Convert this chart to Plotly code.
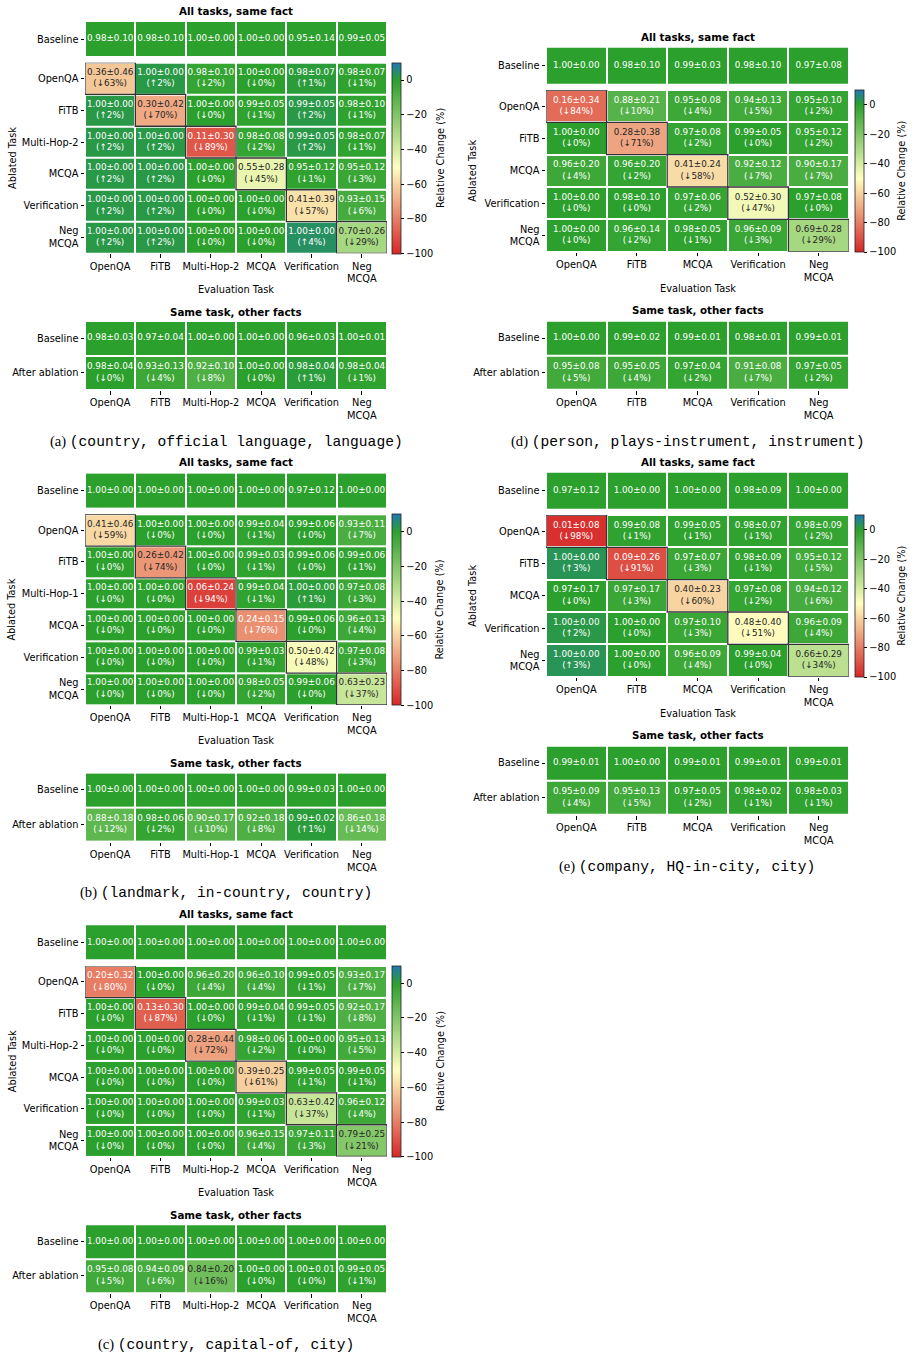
import plotly.graph_objects as go

# ======================= DATA =======================
# (a) (country, official language, language)
A_TASKS = ["OpenQA", "FiTB", "Multi-Hop-2", "MCQA", "Verification", "Neg MCQA"]
A_BASE_MEAN = [0.98, 0.98, 1.00, 1.00, 0.95, 0.99]
A_BASE_STD = [0.10, 0.10, 0.00, 0.00, 0.14, 0.05]
A_MEAN = [[0.36, 1.00, 0.98, 1.00, 0.98, 0.98],
          [1.00, 0.30, 1.00, 0.99, 0.99, 0.98],
          [1.00, 1.00, 0.11, 0.98, 0.99, 0.98],
          [1.00, 1.00, 1.00, 0.55, 0.95, 0.95],
          [1.00, 1.00, 1.00, 1.00, 0.41, 0.93],
          [1.00, 1.00, 1.00, 1.00, 1.00, 0.70]]
A_STD = [[0.46, 0.00, 0.10, 0.00, 0.07, 0.07],
         [0.00, 0.42, 0.00, 0.05, 0.05, 0.10],
         [0.00, 0.00, 0.30, 0.08, 0.05, 0.07],
         [0.00, 0.00, 0.00, 0.28, 0.12, 0.12],
         [0.00, 0.00, 0.00, 0.00, 0.39, 0.15],
         [0.00, 0.00, 0.00, 0.00, 0.00, 0.26]]
A_CHANGE = [[-63, 2, -2, 0, 1, -1],
            [2, -70, 0, -1, 2, -1],
            [2, 2, -89, -2, 2, -1],
            [2, 2, 0, -45, -1, -3],
            [2, 2, 0, 0, -57, -6],
            [2, 2, 0, 0, 4, -29]]
A_OTHER_BASE_MEAN = [0.98, 0.97, 1.00, 1.00, 0.96, 1.00]
A_OTHER_BASE_STD = [0.03, 0.04, 0.00, 0.00, 0.03, 0.01]
A_OTHER_MEAN = [0.98, 0.93, 0.92, 1.00, 0.98, 0.98]
A_OTHER_STD = [0.04, 0.13, 0.10, 0.00, 0.04, 0.04]
A_OTHER_CHANGE = [0, -4, -8, 0, 1, -1]

# (b) (landmark, in-country, country)
B_TASKS = ["OpenQA", "FiTB", "Multi-Hop-1", "MCQA", "Verification", "Neg MCQA"]
B_BASE_MEAN = [1.00, 1.00, 1.00, 1.00, 0.97, 1.00]
B_BASE_STD = [0.00, 0.00, 0.00, 0.00, 0.12, 0.00]
B_MEAN = [[0.41, 1.00, 1.00, 0.99, 0.99, 0.93],
          [1.00, 0.26, 1.00, 0.99, 0.99, 0.99],
          [1.00, 1.00, 0.06, 0.99, 1.00, 0.97],
          [1.00, 1.00, 1.00, 0.24, 0.99, 0.96],
          [1.00, 1.00, 1.00, 0.99, 0.50, 0.97],
          [1.00, 1.00, 1.00, 0.98, 0.99, 0.63]]
B_STD = [[0.46, 0.00, 0.00, 0.04, 0.06, 0.11],
         [0.00, 0.42, 0.00, 0.03, 0.06, 0.06],
         [0.00, 0.00, 0.24, 0.04, 0.00, 0.08],
         [0.00, 0.00, 0.00, 0.15, 0.06, 0.13],
         [0.00, 0.00, 0.00, 0.03, 0.42, 0.08],
         [0.00, 0.00, 0.00, 0.05, 0.06, 0.23]]
B_CHANGE = [[-59, 0, 0, -1, 0, -7],
            [0, -74, 0, -1, 0, -1],
            [0, 0, -94, -1, 1, -3],
            [0, 0, 0, -76, 0, -4],
            [0, 0, 0, -1, -48, -3],
            [0, 0, 0, -2, 0, -37]]
B_OTHER_BASE_MEAN = [1.00, 1.00, 1.00, 1.00, 0.99, 1.00]
B_OTHER_BASE_STD = [0.00, 0.00, 0.00, 0.00, 0.03, 0.00]
B_OTHER_MEAN = [0.88, 0.98, 0.90, 0.92, 0.99, 0.86]
B_OTHER_STD = [0.18, 0.06, 0.17, 0.18, 0.02, 0.18]
B_OTHER_CHANGE = [-12, -2, -10, -8, 1, -14]

# (c) (country, capital-of, city)
C_TASKS = ["OpenQA", "FiTB", "Multi-Hop-2", "MCQA", "Verification", "Neg MCQA"]
C_BASE_MEAN = [1.00, 1.00, 1.00, 1.00, 1.00, 1.00]
C_BASE_STD = [0.00, 0.00, 0.00, 0.00, 0.00, 0.00]
C_MEAN = [[0.20, 1.00, 0.96, 0.96, 0.99, 0.93],
          [1.00, 0.13, 1.00, 0.99, 0.99, 0.92],
          [1.00, 1.00, 0.28, 0.98, 1.00, 0.95],
          [1.00, 1.00, 1.00, 0.39, 0.99, 0.99],
          [1.00, 1.00, 1.00, 0.99, 0.63, 0.96],
          [1.00, 1.00, 1.00, 0.96, 0.97, 0.79]]
C_STD = [[0.32, 0.00, 0.20, 0.10, 0.05, 0.17],
         [0.00, 0.30, 0.00, 0.04, 0.05, 0.17],
         [0.00, 0.00, 0.44, 0.06, 0.00, 0.13],
         [0.00, 0.00, 0.00, 0.25, 0.05, 0.05],
         [0.00, 0.00, 0.00, 0.03, 0.42, 0.12],
         [0.00, 0.00, 0.00, 0.15, 0.11, 0.25]]
C_CHANGE = [[-80, 0, -4, -4, -1, -7],
            [0, -87, 0, -1, -1, -8],
            [0, 0, -72, -2, 0, -5],
            [0, 0, 0, -61, -1, -1],
            [0, 0, 0, -1, -37, -4],
            [0, 0, 0, -4, -3, -21]]
C_OTHER_BASE_MEAN = [1.00, 1.00, 1.00, 1.00, 1.00, 1.00]
C_OTHER_BASE_STD = [0.00, 0.00, 0.00, 0.00, 0.00, 0.00]
C_OTHER_MEAN = [0.95, 0.94, 0.84, 1.00, 1.00, 0.99]
C_OTHER_STD = [0.08, 0.09, 0.20, 0.00, 0.01, 0.05]
C_OTHER_CHANGE = [-5, -6, -16, 0, 0, -1]

# (d) (person, plays-instrument, instrument)
D_TASKS = ["OpenQA", "FiTB", "MCQA", "Verification", "Neg MCQA"]
D_BASE_MEAN = [1.00, 0.98, 0.99, 0.98, 0.97]
D_BASE_STD = [0.00, 0.10, 0.03, 0.10, 0.08]
D_MEAN = [[0.16, 0.88, 0.95, 0.94, 0.95],
          [1.00, 0.28, 0.97, 0.99, 0.95],
          [0.96, 0.96, 0.41, 0.92, 0.90],
          [1.00, 0.98, 0.97, 0.52, 0.97],
          [1.00, 0.96, 0.98, 0.96, 0.69]]
D_STD = [[0.34, 0.21, 0.08, 0.13, 0.10],
         [0.00, 0.38, 0.08, 0.05, 0.12],
         [0.20, 0.20, 0.24, 0.12, 0.17],
         [0.00, 0.10, 0.06, 0.30, 0.08],
         [0.00, 0.14, 0.05, 0.09, 0.28]]
D_CHANGE = [[-84, -10, -4, -5, -2],
            [0, -71, -2, 0, -2],
            [-4, -2, -58, -7, -7],
            [0, 0, -2, -47, 0],
            [0, -2, -1, -3, -29]]
D_OTHER_BASE_MEAN = [1.00, 0.99, 0.99, 0.98, 0.99]
D_OTHER_BASE_STD = [0.00, 0.02, 0.01, 0.01, 0.01]
D_OTHER_MEAN = [0.95, 0.95, 0.97, 0.91, 0.97]
D_OTHER_STD = [0.08, 0.05, 0.04, 0.08, 0.05]
D_OTHER_CHANGE = [-5, -4, -2, -7, -2]

# (e) (company, HQ-in-city, city)
E_TASKS = ["OpenQA", "FiTB", "MCQA", "Verification", "Neg MCQA"]
E_BASE_MEAN = [0.97, 1.00, 1.00, 0.98, 1.00]
E_BASE_STD = [0.12, 0.00, 0.00, 0.09, 0.00]
E_MEAN = [[0.01, 0.99, 0.99, 0.98, 0.98],
          [1.00, 0.09, 0.97, 0.98, 0.95],
          [0.97, 0.97, 0.40, 0.97, 0.94],
          [1.00, 1.00, 0.97, 0.48, 0.96],
          [1.00, 1.00, 0.96, 0.99, 0.66]]
E_STD = [[0.08, 0.08, 0.05, 0.07, 0.09],
         [0.00, 0.26, 0.07, 0.09, 0.12],
         [0.17, 0.17, 0.23, 0.08, 0.12],
         [0.00, 0.00, 0.10, 0.40, 0.09],
         [0.00, 0.00, 0.09, 0.04, 0.29]]
E_CHANGE = [[-98, -1, -1, -1, -2],
            [3, -91, -3, -1, -5],
            [0, -3, -60, -2, -6],
            [2, 0, -3, -51, -4],
            [3, 0, -4, 0, -34]]
E_OTHER_BASE_MEAN = [0.99, 1.00, 0.99, 0.99, 0.99]
E_OTHER_BASE_STD = [0.01, 0.00, 0.01, 0.01, 0.01]
E_OTHER_MEAN = [0.95, 0.95, 0.97, 0.98, 0.98]
E_OTHER_STD = [0.09, 0.13, 0.05, 0.02, 0.03]
E_OTHER_CHANGE = [-4, -5, -2, -1, -1]

CAPTIONS = {
    "a": "(country, official language, language)",
    "b": "(landmark, in-country, country)",
    "c": "(country, capital-of, city)",
    "d": "(person, plays-instrument, instrument)",
    "e": "(company, HQ-in-city, city)",
}

# ======================= STYLE =======================
W, H = 915, 1359
FONT = "DejaVu Sans"
CELL_FS = 8.8
TICK_FS = 9.8
ZMIN, ZMAX = -100, 10
CMAP = [(-100, (214, 39, 40)), (-50, (255, 255, 191)), (0, (44, 160, 44)), (10, (31, 119, 180))]
COLORSCALE = [[(v - ZMIN) / (ZMAX - ZMIN), "rgb(%d,%d,%d)" % c] for v, c in CMAP]


def color_at(v):
    v = max(ZMIN, min(ZMAX, v))
    for (v0, c0), (v1, c1) in zip(CMAP[:-1], CMAP[1:]):
        if v0 <= v <= v1:
            t = (v - v0) / (v1 - v0)
            return tuple(c0[i] + t * (c1[i] - c0[i]) for i in range(3))
    return CMAP[-1][1]


def text_color(v):
    def lin(c):
        c = c / 255.0
        return c / 12.92 if c <= 0.03928 else ((c + 0.055) / 1.055) ** 2.4
    r, g, b = color_at(v)
    lum = 0.2126 * lin(r) + 0.7152 * lin(g) + 0.0722 * lin(b)
    return "#262626" if lum > 0.408 else "#ffffff"


def fmt(m, s, c=None):
    t = f"{m:.2f}±{s:.2f}"
    if c is not None:
        t += f"<br>({'↑' if c > 0 else '↓'}{abs(c)}%)"
    return t


def lab(t):
    return t.replace("Neg ", "Neg<br>")


fig = go.Figure()
axes = {}
shapes = []
annotations = []
counter = [0]


def add_heat(row_labels, col_labels, z, texts, xpx, ypx, show_x, diag=False, cbar=None):
    counter[0] += 1
    k = counter[0]
    s = "" if k == 1 else str(k)
    nr, nc = len(row_labels), len(col_labels)
    fig.add_trace(go.Heatmap(
        z=z, x=list(range(nc)), y=list(range(nr)),
        colorscale=COLORSCALE, zmin=ZMIN, zmax=ZMAX, xgap=2, ygap=2,
        showscale=cbar is not None, colorbar=cbar if cbar else {},
        hoverinfo="skip", xaxis="x" + s, yaxis="y" + s))
    tx, ty, tt, tc = [], [], [], []
    for r in range(nr):
        for c in range(nc):
            tx.append(c)
            ty.append(r)
            tt.append(texts[r][c])
            tc.append(text_color(z[r][c]))
    fig.add_trace(go.Scatter(
        x=tx, y=ty, text=tt, mode="text",
        textfont=dict(family=FONT, size=CELL_FS, color=tc),
        hoverinfo="skip", showlegend=False, xaxis="x" + s, yaxis="y" + s))
    common = dict(showgrid=False, zeroline=False, showline=False, automargin=False,
                  tickfont=dict(family=FONT, size=TICK_FS, color="#000"),
                  ticklen=3.5, tickwidth=0.8, tickcolor="#000", fixedrange=True)
    axes["xaxis" + s] = dict(domain=[xpx[0] / W, xpx[1] / W], anchor="y" + s,
                             range=[-0.5, nc - 0.5], tickmode="array",
                             tickvals=list(range(nc)), ticktext=[lab(t) for t in col_labels],
                             showticklabels=show_x, ticks="outside" if show_x else "", **common)
    axes["yaxis" + s] = dict(domain=[1 - ypx[1] / H, 1 - ypx[0] / H], anchor="x" + s,
                             range=[nr - 0.5, -0.5], tickmode="array",
                             tickvals=list(range(nr)), ticktext=[lab(t) for t in row_labels],
                             ticks="outside", **common)
    if diag:
        for i in range(min(nr, nc)):
            shapes.append(dict(type="rect", xref="x" + s, yref="y" + s,
                               x0=i - 0.5, x1=i + 0.5, y0=i - 0.5, y1=i + 0.5,
                               line=dict(color="#333333", width=1.3)))


def ann(text, x, y, size=TICK_FS, angle=0, family=FONT, bold=False):
    annotations.append(dict(text=f"<b>{text}</b>" if bold else text, x=x / W, y=1 - y / H,
                            xref="paper", yref="paper", showarrow=False,
                            xanchor="center", yanchor="middle", textangle=angle,
                            font=dict(family=family, size=size, color="#000")))


LEFT = dict(title=10.7, base=(21, 57.3), main=(62.7, 253.3), evaly=289, ablx=12,
            title2=311.7, bottom=(321, 390), cap=441, x=(85, 387), cbx=392, cbtitle=440, capx=226)
RIGHT = dict(title=36.7, base=(46.7, 84.3), main=(90, 251.7), evaly=288.3, ablx=473,
             title2=310, bottom=(320.7, 390), cap=441.7, x=(546, 849), cbx=855, cbtitle=902, capx=687)

PANELS = [
    ("a", LEFT, 0.0, A_TASKS, A_BASE_MEAN, A_BASE_STD, A_MEAN, A_STD, A_CHANGE,
     A_OTHER_BASE_MEAN, A_OTHER_BASE_STD, A_OTHER_MEAN, A_OTHER_STD, A_OTHER_CHANGE),
    ("b", LEFT, 451.6, B_TASKS, B_BASE_MEAN, B_BASE_STD, B_MEAN, B_STD, B_CHANGE,
     B_OTHER_BASE_MEAN, B_OTHER_BASE_STD, B_OTHER_MEAN, B_OTHER_STD, B_OTHER_CHANGE),
    ("c", LEFT, 903.2, C_TASKS, C_BASE_MEAN, C_BASE_STD, C_MEAN, C_STD, C_CHANGE,
     C_OTHER_BASE_MEAN, C_OTHER_BASE_STD, C_OTHER_MEAN, C_OTHER_STD, C_OTHER_CHANGE),
    ("d", RIGHT, 0.0, D_TASKS, D_BASE_MEAN, D_BASE_STD, D_MEAN, D_STD, D_CHANGE,
     D_OTHER_BASE_MEAN, D_OTHER_BASE_STD, D_OTHER_MEAN, D_OTHER_STD, D_OTHER_CHANGE),
    ("e", RIGHT, 425.0, E_TASKS, E_BASE_MEAN, E_BASE_STD, E_MEAN, E_STD, E_CHANGE,
     E_OTHER_BASE_MEAN, E_OTHER_BASE_STD, E_OTHER_MEAN, E_OTHER_STD, E_OTHER_CHANGE),
]

for (key, g, off, tasks, bm, bs, mm, ms, ch, obm, obs, om, osd, och) in PANELS:
    n = len(tasks)
    xpx = g["x"]
    # baseline row
    add_heat(["Baseline"], tasks, [[0] * n], [[fmt(bm[j], bs[j]) for j in range(n)]],
             xpx, (g["base"][0] + off, g["base"][1] + off), show_x=False)
    # main ablation matrix
    m0, m1 = g["main"][0] + off, g["main"][1] + off
    cb = dict(x=g["cbx"] / W, xanchor="left", y=1 - m0 / H, yanchor="top",
              lenmode="pixels", len=m1 - m0, thicknessmode="pixels", thickness=8.5,
              xpad=0, ypad=0, outlinewidth=0.8, outlinecolor="#222",
              tickmode="array", tickvals=[-100, -80, -60, -40, -20, 0],
              ticktext=["−100", "−80", "−60", "−40", "−20", "0"],
              ticks="outside", ticklen=3.5, tickwidth=0.8, tickcolor="#000",
              tickfont=dict(family=FONT, size=TICK_FS, color="#000"))
    add_heat(tasks, tasks, ch,
             [[fmt(mm[r][c], ms[r][c], ch[r][c]) for c in range(n)] for r in range(n)],
             xpx, (m0, m1), show_x=True, diag=True, cbar=cb)
    # other facts
    add_heat(["Baseline", "After ablation"], tasks, [[0] * n, och],
             [[fmt(obm[j], obs[j]) for j in range(n)],
              [fmt(om[j], osd[j], och[j]) for j in range(n)]],
             xpx, (g["bottom"][0] + off, g["bottom"][1] + off), show_x=True)
    cx = (xpx[0] + xpx[1]) / 2
    ann("All tasks, same fact", cx, g["title"] + off, size=10.3, bold=True)
    ann("Evaluation Task", cx, g["evaly"] + off)
    ann("Ablated Task", g["ablx"], (m0 + m1) / 2, angle=-90)
    ann("Relative Change (%)", g["cbtitle"], (m0 + m1) / 2, angle=-90)
    ann("Same task, other facts", cx, g["title2"] + off, size=10.3, bold=True)
    ann(f"<span style=\"font-family:'Liberation Serif'\">({key}) </span>{CAPTIONS[key]}",
        g["capx"], g["cap"] + off, size=14.6, family="Liberation Mono")

fig.update_layout(
    template="none", width=W, height=H, autosize=False,
    margin=dict(l=0, r=0, t=0, b=0, pad=0, autoexpand=False),
    paper_bgcolor="white", plot_bgcolor="white", showlegend=False,
    shapes=shapes, annotations=annotations, **axes)

fig.write_html("out.html")
